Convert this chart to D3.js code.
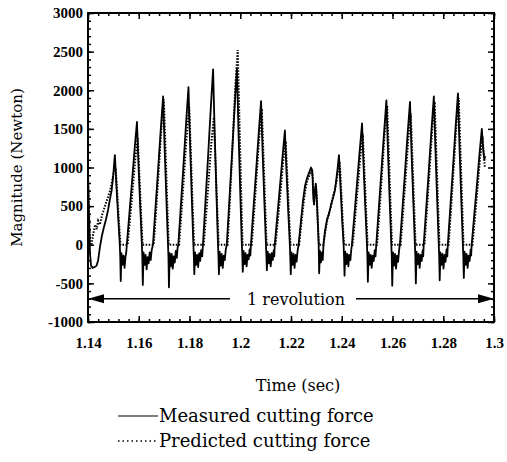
<!DOCTYPE html>
<html>
<head>
<meta charset="utf-8">
<script src="https://cdn.jsdelivr.net/npm/d3@7"></script>
<style>
  body { margin: 0; background: #fff; }
  text { font-family: "DejaVu Serif", "Liberation Serif", serif; fill: #000; }
  .tick text { font-family: "Liberation Serif", serif; font-weight: bold; font-size: 15px; }
</style>
</head>
<body>
<script>
// time (sec) / force (N), one row per tooth pass
var measured = [
  [1.1400, 880], [1.1404, 380], [1.1408, -120], [1.1412, -270], [1.1418, -300], [1.1426, -290], [1.1434, -270], [1.1440, -200],
  [1.1447, -30], [1.1455, 120], [1.1463, 230], [1.1471, 330], [1.1479, 450], [1.1487, 600], [1.1493, 700], [1.1499, 880],
  [1.1503, 1050], [1.1506, 1160], [1.1512, 760], [1.1519, 350], [1.1525, 20], [1.1527, -150], [1.1529, -470], [1.1532, -110],
  [1.1536, -260], [1.1540, -140], [1.1544, -300], [1.1548, -150], [1.1551, -90], [1.1553, 0],
  [1.1563, 400], [1.1573, 800], [1.1583, 1210], [1.1593, 1590], [1.1599, 1030], [1.1606, 480], [1.1612, 30], [1.1614, -150],
  [1.1616, -520], [1.1619, -100], [1.1623, -260], [1.1627, -130], [1.1631, -320], [1.1635, -160], [1.1639, -240], [1.1643, -100],
  [1.1647, -200], [1.1651, -70], [1.1656, 0],
  [1.1666, 480], [1.1676, 960], [1.1686, 1460], [1.1696, 1920], [1.1702, 1250], [1.1709, 580], [1.1715, 30], [1.1717, -150],
  [1.1719, -550], [1.1722, -110], [1.1726, -280], [1.1730, -120], [1.1734, -310], [1.1738, -150], [1.1742, -230], [1.1746, -80],
  [1.1750, -170], [1.1753, -40], [1.1756, 0],
  [1.1766, 510], [1.1776, 1020], [1.1786, 1550], [1.1796, 2040], [1.1802, 1330], [1.1809, 610], [1.1815, 30], [1.1817, -140],
  [1.1819, -380], [1.1822, -100], [1.1826, -260], [1.1830, -130], [1.1834, -290], [1.1838, -110], [1.1842, -210], [1.1846, -70],
  [1.1850, -150], [1.1853, 0],
  [1.1863, 570], [1.1873, 1130], [1.1883, 1720], [1.1893, 2270], [1.1899, 1480], [1.1906, 680], [1.1912, 30], [1.1914, -140],
  [1.1916, -380], [1.1919, -90], [1.1923, -270], [1.1927, -120], [1.1931, -300], [1.1935, -140], [1.1939, -200], [1.1943, -60],
  [1.1947, 0],
  [1.1957, 570], [1.1967, 1140], [1.1977, 1730], [1.1987, 2280], [1.1993, 1480], [1.2000, 680], [1.2006, 30], [1.2008, -130],
  [1.2010, -350], [1.2013, -80], [1.2017, -250], [1.2021, -110], [1.2025, -280], [1.2029, -130], [1.2033, -190], [1.2037, -60],
  [1.2040, -140], [1.2042, 0],
  [1.2052, 470], [1.2062, 930], [1.2072, 1410], [1.2082, 1860], [1.2088, 1210], [1.2095, 560], [1.2101, 30], [1.2103, -140],
  [1.2105, -330], [1.2108, -90], [1.2112, -240], [1.2116, -120], [1.2120, -280], [1.2124, -110], [1.2128, -200], [1.2132, -70],
  [1.2134, -150], [1.2136, 0],
  [1.2146, 370], [1.2156, 740], [1.2166, 1120], [1.2176, 1480], [1.2182, 960], [1.2189, 440], [1.2195, 30], [1.2197, -140],
  [1.2199, -380], [1.2202, -100], [1.2206, -260], [1.2210, -120], [1.2214, -300], [1.2218, -130], [1.2222, -220], [1.2226, -80],
  [1.2230, 0],
  [1.2239, 300], [1.2247, 560], [1.2255, 760], [1.2263, 860], [1.2271, 930], [1.2279, 1000], [1.2284, 960], [1.2288, 600],
  [1.2291, 520], [1.2295, 720], [1.2298, 790], [1.2302, 560], [1.2306, 250], [1.2309, 20], [1.2311, -370], [1.2314, -80],
  [1.2318, -230], [1.2322, -100], [1.2325, -200], [1.2328, 0],
  [1.2334, 180], [1.2342, 330], [1.2350, 400], [1.2358, 520], [1.2365, 600], [1.2373, 700], [1.2379, 860], [1.2384, 1000],
  [1.2389, 1160], [1.2395, 750], [1.2402, 300], [1.2407, 20], [1.2409, -150], [1.2411, -400], [1.2414, -90], [1.2418, -250],
  [1.2422, -120], [1.2426, -280], [1.2430, -130], [1.2434, -200], [1.2437, -80], [1.2440, 0],
  [1.2450, 390], [1.2460, 790], [1.2470, 1190], [1.2480, 1570], [1.2486, 1020], [1.2493, 470], [1.2499, 30], [1.2501, -150],
  [1.2503, -480], [1.2506, -100], [1.2510, -260], [1.2514, -130], [1.2518, -300], [1.2522, -140], [1.2526, -210], [1.2530, -70],
  [1.2533, -150], [1.2536, 0],
  [1.2546, 470], [1.2556, 940], [1.2566, 1420], [1.2576, 1870], [1.2582, 1220], [1.2589, 560], [1.2595, 30], [1.2597, -150],
  [1.2599, -530], [1.2602, -100], [1.2606, -270], [1.2610, -120], [1.2614, -310], [1.2618, -140], [1.2622, -220], [1.2626, -70],
  [1.2629, 0],
  [1.2639, 460], [1.2649, 930], [1.2659, 1410], [1.2669, 1850], [1.2675, 1200], [1.2682, 560], [1.2688, 30], [1.2690, -150],
  [1.2692, -500], [1.2695, -90], [1.2699, -250], [1.2703, -120], [1.2707, -300], [1.2711, -130], [1.2715, -210], [1.2719, -70],
  [1.2721, -150], [1.2723, 0],
  [1.2733, 480], [1.2743, 960], [1.2753, 1460], [1.2763, 1920], [1.2769, 1250], [1.2776, 580], [1.2782, 30], [1.2784, -150],
  [1.2786, -460], [1.2789, -100], [1.2793, -260], [1.2797, -120], [1.2801, -310], [1.2805, -130], [1.2809, -220], [1.2813, -60],
  [1.2816, -150], [1.2818, 0],
  [1.2828, 490], [1.2838, 980], [1.2848, 1490], [1.2858, 1960], [1.2864, 1270], [1.2871, 590], [1.2877, 30], [1.2879, -150],
  [1.2881, -430], [1.2884, -90], [1.2888, -260], [1.2892, -120], [1.2896, -300], [1.2900, -140], [1.2904, -210], [1.2908, -60],
  [1.2910, -140], [1.2912, 0],
  [1.2922, 380], [1.2932, 750], [1.2942, 1140], [1.2952, 1500], [1.2957, 1250], [1.2962, 1100], [1.2965, 1150]
];

var predicted = [
  [1.1400, 950], [1.1404, 420], [1.1408, 0], [1.1414, 0], [1.1420, 130], [1.1428, 260], [1.1434, 200], [1.1440, 310],
  [1.1447, 260], [1.1455, 380], [1.1463, 460], [1.1471, 540], [1.1479, 620], [1.1487, 700], [1.1495, 820], [1.1502, 950],
  [1.1509, 1000], [1.1515, 680], [1.1522, 300], [1.1528, 0],
  [1.1556, 0], [1.1566, 350], [1.1576, 720], [1.1586, 1100], [1.1596, 1380], [1.1602, 940], [1.1609, 410], [1.1615, 0],
  [1.1659, 0], [1.1669, 470], [1.1679, 980], [1.1689, 1500], [1.1699, 1880], [1.1705, 1280], [1.1712, 560], [1.1718, 0],
  [1.1759, 0], [1.1769, 450], [1.1779, 930], [1.1789, 1420], [1.1799, 1780], [1.1805, 1210], [1.1812, 530], [1.1818, 0],
  [1.1856, 0], [1.1866, 410], [1.1876, 860], [1.1886, 1320], [1.1896, 1650], [1.1902, 1120], [1.1909, 500], [1.1915, 0],
  [1.1950, 0], [1.1960, 630], [1.1970, 1310], [1.1980, 2020], [1.1990, 2520], [1.1996, 1710], [1.2003, 760], [1.2009, 0],
  [1.2045, 0], [1.2055, 440], [1.2065, 920], [1.2075, 1410], [1.2085, 1760], [1.2091, 1200], [1.2098, 530], [1.2104, 0],
  [1.2139, 0], [1.2149, 340], [1.2159, 700], [1.2169, 1070], [1.2179, 1340], [1.2185, 910], [1.2192, 400], [1.2198, 0],
  [1.2232, 0], [1.2241, 280], [1.2249, 520], [1.2257, 720], [1.2265, 840], [1.2273, 900], [1.2281, 950], [1.2286, 880],
  [1.2290, 640], [1.2294, 700], [1.2299, 760], [1.2303, 520], [1.2307, 200], [1.2310, 0],
  [1.2328, 0], [1.2334, 150], [1.2342, 300], [1.2350, 420], [1.2358, 500], [1.2365, 620], [1.2373, 720], [1.2381, 850],
  [1.2387, 1000], [1.2392, 1080], [1.2398, 700], [1.2404, 280], [1.2409, 0],
  [1.2443, 0], [1.2453, 360], [1.2463, 740], [1.2473, 1140], [1.2483, 1430], [1.2489, 970], [1.2496, 430], [1.2502, 0],
  [1.2539, 0], [1.2549, 450], [1.2559, 940], [1.2569, 1440], [1.2579, 1800], [1.2585, 1220], [1.2592, 540], [1.2598, 0],
  [1.2632, 0], [1.2642, 430], [1.2652, 880], [1.2662, 1360], [1.2672, 1700], [1.2678, 1160], [1.2685, 510], [1.2691, 0],
  [1.2726, 0], [1.2736, 460], [1.2746, 960], [1.2756, 1480], [1.2766, 1850], [1.2772, 1260], [1.2779, 560], [1.2785, 0],
  [1.2821, 0], [1.2831, 480], [1.2841, 990], [1.2851, 1520], [1.2861, 1900], [1.2867, 1290], [1.2874, 570], [1.2880, 0],
  [1.2915, 0], [1.2925, 350], [1.2935, 730], [1.2945, 1120], [1.2955, 1400], [1.2960, 1150], [1.2964, 1000]
];

var xTicks = [1.14, 1.16, 1.18, 1.2, 1.22, 1.24, 1.26, 1.28, 1.3];
var yTicks = [-1000, -500, 0, 500, 1000, 1500, 2000, 2500, 3000];
var legendLabels = ["Measured cutting force", "Predicted cutting force"];
var revolution = { from: 1.14, to: 1.3, level: -700, label: "1 revolution" };

var width = 507, height = 462;
var plotLeft = 88, plotRight = 494, plotTop = 13, plotBottom = 322;

var x = d3.scaleLinear().domain([1.14, 1.3]).range([plotLeft, plotRight]);
var y = d3.scaleLinear().domain([-1000, 3000]).range([plotBottom, plotTop]);

var svg = d3.select("body").append("svg")
    .attr("width", width)
    .attr("height", height);

var line = d3.line()
    .x(function(d) { return x(d[0]); })
    .y(function(d) { return y(d[1]); });

svg.append("path")
    .datum(predicted)
    .attr("fill", "none")
    .attr("stroke", "#000")
    .attr("stroke-width", 2)
    .attr("stroke-dasharray", "1.5,1.5")
    .attr("d", line);

svg.append("path")
    .datum(measured)
    .attr("fill", "none")
    .attr("stroke", "#000")
    .attr("stroke-width", 1.8)
    .attr("stroke-linejoin", "round")
    .attr("d", line);

// minor ticks first, inward on all sides
var xMinor = d3.range(1.14, 1.3001, 0.004);
var yMinor = d3.range(-1000, 3001, 100);

function styleAxis(g) {
  g.select(".domain").remove();
  g.selectAll(".tick line").attr("stroke", "#000").attr("stroke-width", 1.5);
}

svg.append("g").attr("transform", "translate(0," + plotBottom + ")")
    .call(d3.axisBottom(x).tickValues(xMinor).tickSize(-3).tickFormat(""))
    .call(styleAxis);
svg.append("g").attr("transform", "translate(0," + plotTop + ")")
    .call(d3.axisTop(x).tickValues(xMinor).tickSize(-3).tickFormat(""))
    .call(styleAxis);
svg.append("g").attr("transform", "translate(" + plotLeft + ",0)")
    .call(d3.axisLeft(y).tickValues(yMinor).tickSize(-3).tickFormat(""))
    .call(styleAxis);
svg.append("g").attr("transform", "translate(" + plotRight + ",0)")
    .call(d3.axisRight(y).tickValues(yMinor).tickSize(-3).tickFormat(""))
    .call(styleAxis);

// major ticks with labels
svg.append("g").attr("transform", "translate(0," + plotBottom + ")")
    .call(d3.axisBottom(x).tickValues(xTicks).tickSize(-6).tickPadding(15)
      .tickFormat(function(d) { return String(+d.toFixed(2)); }))
    .call(styleAxis);
svg.append("g").attr("transform", "translate(0," + plotTop + ")")
    .call(d3.axisTop(x).tickValues(xTicks).tickSize(-6).tickFormat(""))
    .call(styleAxis);
svg.append("g").attr("transform", "translate(" + plotLeft + ",0)")
    .call(d3.axisLeft(y).tickValues(yTicks).tickSize(-6).tickPadding(5)
      .tickFormat(function(d) { return String(d); }))
    .call(styleAxis);
svg.append("g").attr("transform", "translate(" + plotRight + ",0)")
    .call(d3.axisRight(y).tickValues(yTicks).tickSize(-6).tickFormat(""))
    .call(styleAxis);

svg.append("rect")
    .attr("x", plotLeft).attr("y", plotTop)
    .attr("width", plotRight - plotLeft).attr("height", plotBottom - plotTop)
    .attr("fill", "none")
    .attr("stroke", "#000")
    .attr("stroke-width", 2);

// "1 revolution" arrow
var ry = y(revolution.level);
var textX = 296;
svg.append("text")
    .attr("x", textX).attr("y", ry + 6)
    .attr("text-anchor", "middle")
    .attr("font-size", 16)
    .text(revolution.label);
svg.append("line")
    .attr("x1", x(revolution.from) + 10).attr("x2", textX - 66)
    .attr("y1", ry).attr("y2", ry)
    .attr("stroke", "#000").attr("stroke-width", 1.5);
svg.append("line")
    .attr("x1", textX + 60).attr("x2", x(revolution.to) - 10)
    .attr("y1", ry).attr("y2", ry)
    .attr("stroke", "#000").attr("stroke-width", 1.5);
svg.append("path")
    .attr("d", "M" + x(revolution.from) + "," + ry + "l16,-4.5l0,9z")
    .attr("fill", "#000");
svg.append("path")
    .attr("d", "M" + x(revolution.to) + "," + ry + "l-16,-4.5l0,9z")
    .attr("fill", "#000");

// axis titles
svg.append("text")
    .attr("x", 298).attr("y", 391)
    .attr("text-anchor", "middle")
    .attr("font-size", 16)
    .text("Time (sec)");
svg.append("text")
    .attr("transform", "translate(22," + ((plotTop + plotBottom) / 2) + ") rotate(-90)")
    .attr("text-anchor", "middle")
    .attr("font-size", 15)
    .text("Magnitude (Newton)");

// legend
var legend = svg.append("g").attr("transform", "translate(118,422)");
legendLabels.forEach(function(label, i) {
  var row = legend.append("g").attr("transform", "translate(0," + (i * 25) + ")");
  row.append("line")
      .attr("x1", 0).attr("x2", 40).attr("y1", -6).attr("y2", -6)
      .attr("stroke", "#000")
      .attr("stroke-width", i ? 1.6 : 1.2)
      .attr("stroke-dasharray", i ? "1.5,3" : null);
  row.append("text")
      .attr("x", 41).attr("y", 0)
      .attr("font-size", 18)
      .text(label);
});
</script>
</body>
</html>
